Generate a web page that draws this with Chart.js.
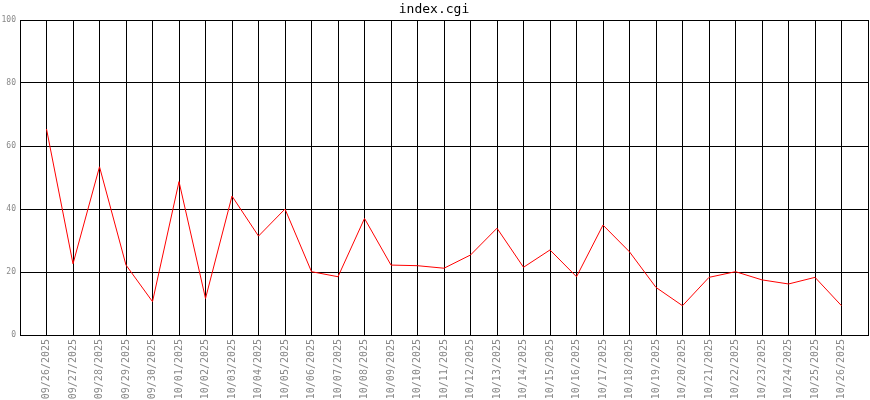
<!DOCTYPE html>
<html>
<head>
<meta charset="utf-8">
<script src="https://cdn.jsdelivr.net/npm/chart.js@4"></script>
<style>
html,body{margin:0;padding:0;background:#fff;}
#wrap{width:870px;height:400px;}
</style>
</head>
<body>
<div id="wrap"><canvas id="c" width="870" height="400"></canvas></div>
<script>
const chartTitle = "index.cgi";
const dates = ["09/26/2025","09/27/2025","09/28/2025","09/29/2025","09/30/2025","10/01/2025","10/02/2025","10/03/2025","10/04/2025","10/05/2025","10/06/2025","10/07/2025","10/08/2025","10/09/2025","10/10/2025","10/11/2025","10/12/2025","10/13/2025","10/14/2025","10/15/2025","10/16/2025","10/17/2025","10/18/2025","10/19/2025","10/20/2025","10/21/2025","10/22/2025","10/23/2025","10/24/2025","10/25/2025","10/26/2025"];
const values = [65.4,22.6,53.4,22.2,10.6,48.7,11.6,44.1,31.4,40.0,20.1,18.5,37.0,22.2,22.0,21.2,25.4,33.9,21.5,27.0,18.5,34.9,26.4,15.1,9.3,18.3,20.1,17.5,16.2,18.3,9.3];
const yTicks = [0,20,40,60,80,100];

// pad one empty slot on each side
const labels = [""].concat(dates, [""]);
const data = [null].concat(values, [null]);

new Chart(document.getElementById('c'), {
  type: 'line',
  data: {
    labels: labels,
    datasets: [{
      data: data,
      borderColor: '#ff0000',
      borderWidth: 1,
      pointRadius: 0,
      tension: 0,
      fill: false,
      spanGaps: false
    }]
  },
  options: {
    responsive: false,
    animation: false,
    devicePixelRatio: 1,
    layout: { padding: { left: 0, right: 2, top: 0, bottom: 0 } },
    plugins: {
      legend: { display: false },
      tooltip: { enabled: false },
      title: {
        display: true,
        text: chartTitle,
        color: '#000',
        font: { family: 'DejaVu Sans Mono', size: 13, weight: 'normal', lineHeight: 16/13 },
        padding: { top: 2, bottom: 2 }
      }
    },
    scales: {
      x: {
        type: 'category',
        offset: false,
        grid: { color: '#000', lineWidth: 1, drawTicks: false },
        border: { color: '#000', width: 1 },
        ticks: {
          autoSkip: false,
          minRotation: 90,
          maxRotation: 90,
          padding: 4,
          color: '#888',
          font: { family: 'DejaVu Sans Mono', size: 10 }
        },
        afterFit: function(s){ s.height = 65; s.paddingLeft = 0; s.paddingRight = 0; }
      },
      y: {
        min: 0,
        max: 100,
        afterBuildTicks: function(s){ s.ticks = yTicks.map(v => ({value: v})); },
        grid: { color: '#000', lineWidth: 1, drawTicks: false },
        border: { color: '#000', width: 1 },
        ticks: {
          padding: 4,
          color: '#888',
          font: { family: 'DejaVu Sans Mono', size: 8 }
        },
        afterFit: function(s){ s.width = 20; s.paddingTop = 0; s.paddingBottom = 0; }
      }
    }
  }
});
</script>
</body>
</html>
